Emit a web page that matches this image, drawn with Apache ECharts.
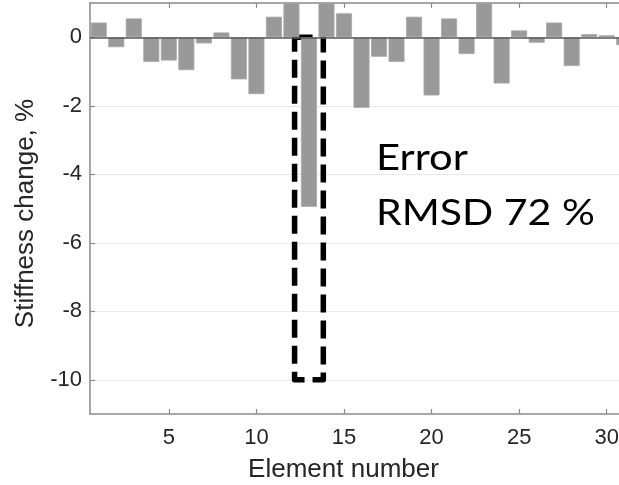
<!DOCTYPE html>
<html>
<head>
<meta charset="utf-8">
<script src="https://cdn.jsdelivr.net/npm/echarts@6/dist/echarts.min.js"></script>
<style>
  html, body { margin: 0; padding: 0; background: #fff; }
  #chart { width: 619px; height: 485px; }
</style>
</head>
<body>
<div id="chart"></div>
<script>
// Element numbers and the identified stiffness change per element (%)
const elements = [1, 2, 3, 4, 5, 6, 7, 8, 9, 10, 11, 12, 13, 14, 15, 16,
                  17, 18, 19, 20, 21, 22, 23, 24, 25, 26, 27, 28, 29, 30, 31];
const stiffnessChange = [0.43, -0.29, 0.55, -0.72, -0.68, -0.96, -0.18, 0.14,
                         -1.23, -1.66, 0.60, 1.20, -4.95, 1.30, 0.70, -2.06,
                         -0.57, -0.72, 0.60, -1.70, 0.55, -0.49, 1.20, -1.35,
                         0.20, -0.16, 0.43, -0.84, 0.09, 0.06, -0.23];

// Tick labels
const xTicks = [5, 10, 15, 20, 25, 30];
const yTicks = [-10, -8, -6, -4, -2, 0];

// Damaged element and the expected stiffness range around it
const damagedElement = 13;
const expectedRange = [0, -10];

// Annotation text
const annotationLines = ['Error', 'RMSD 72 %'];

const axisFont = 'Liberation Sans, Arial, Helvetica, sans-serif';
const noteFont = 'Lato, "Open Sans", sans-serif';
const axisLineColor = '#8a8a8a';
const labelColor = '#262626';

const chart = echarts.init(document.getElementById('chart'), null, { renderer: 'canvas' });

const barData = elements.map((e, i) => [e, stiffnessChange[i]]);
const boxHalfWidth = 0.82;

const option = {
  animation: false,
  backgroundColor: '#ffffff',
  grid: {
    left: 90,
    top: 3,
    bottom: 71,
    width: 543,
    outerBoundsMode: 'none',
    containLabel: false
  },
  xAxis: [
    {
      type: 'value',
      min: 0.5,
      max: 31.5,
      position: 'bottom',
      name: 'Element number',
      nameLocation: 'middle',
      nameGap: 43,
      nameTextStyle: {
        fontFamily: axisFont,
        fontSize: 26,
        color: labelColor,
        padding: [0, 36, 0, 0]
      },
      axisLine: { show: true, onZero: false, lineStyle: { color: axisLineColor, width: 1.5 } },
      axisTick: { show: true, inside: true, length: 5, customValues: xTicks,
                  lineStyle: { color: axisLineColor, width: 1.2 } },
      axisLabel: { show: true, customValues: xTicks, margin: 13,
                   fontFamily: axisFont, fontSize: 22, color: labelColor },
      splitLine: { show: false }
    },
    {
      type: 'value',
      min: 0.5,
      max: 31.5,
      position: 'top',
      axisLine: { show: true, onZero: false, lineStyle: { color: axisLineColor, width: 1.5 } },
      axisTick: { show: true, inside: true, length: 5, customValues: xTicks,
                  lineStyle: { color: axisLineColor, width: 1.2 } },
      axisLabel: { show: false },
      splitLine: { show: false }
    }
  ],
  yAxis: {
    type: 'value',
    min: -11,
    max: 1,
    name: 'Stiffness change, %',
    nameLocation: 'middle',
    nameRotate: 90,
    nameGap: 36,
    nameTextStyle: { fontFamily: axisFont, fontSize: 26, color: labelColor,
                     padding: [0, 10, 0, 0] },
    axisLine: { show: true, onZero: false, lineStyle: { color: axisLineColor, width: 1.5 } },
    axisTick: { show: true, inside: true, length: 5, customValues: yTicks,
                lineStyle: { color: axisLineColor, width: 1.2 } },
    axisLabel: { show: true, customValues: yTicks, margin: 8,
                 fontFamily: axisFont, fontSize: 22, color: labelColor },
    splitLine: { show: true, lineStyle: { color: '#e8e8e8', width: 1.2 } }
  },
  series: [
    {
      type: 'bar',
      xAxisIndex: 0,
      data: barData,
      barWidth: 16,
      clip: true,
      itemStyle: { color: '#999999', borderColor: '#a8a8a8', borderWidth: 0.8 },
      markLine: {
        silent: true,
        symbol: 'none',
        label: { show: false },
        lineStyle: { color: '#5a5a5a', width: 1.5, type: 'solid' },
        data: [{ yAxis: 0 }]
      },
      z: 2
    },
    {
      type: 'line',
      xAxisIndex: 0,
      data: [],
      z: 10,
      markArea: {
        silent: true,
        label: { show: false },
        itemStyle: {
          color: 'rgba(0,0,0,0)',
          borderColor: '#000000',
          borderWidth: 5.5,
          borderType: [18, 8],
          borderJoin: 'round'
        },
        data: [[
          { coord: [damagedElement - boxHalfWidth, expectedRange[0]] },
          { coord: [damagedElement + boxHalfWidth, expectedRange[1]] }
        ]]
      }
    }
  ],
  graphic: [
    {
      type: 'text',
      x: 376,
      y: 158,
      scaleX: 1.16,
      z: 20,
      style: {
        text: annotationLines[0],
        fontFamily: noteFont,
        fontSize: 36,
        fill: '#000000',
        verticalAlign: 'middle',
        align: 'left'
      }
    },
    {
      type: 'text',
      x: 376,
      y: 213,
      scaleX: 1.14,
      z: 20,
      style: {
        text: annotationLines[1],
        fontFamily: noteFont,
        fontSize: 36,
        fill: '#000000',
        verticalAlign: 'middle',
        align: 'left'
      }
    }
  ]
};

chart.setOption(option);
</script>
</body>
</html>
